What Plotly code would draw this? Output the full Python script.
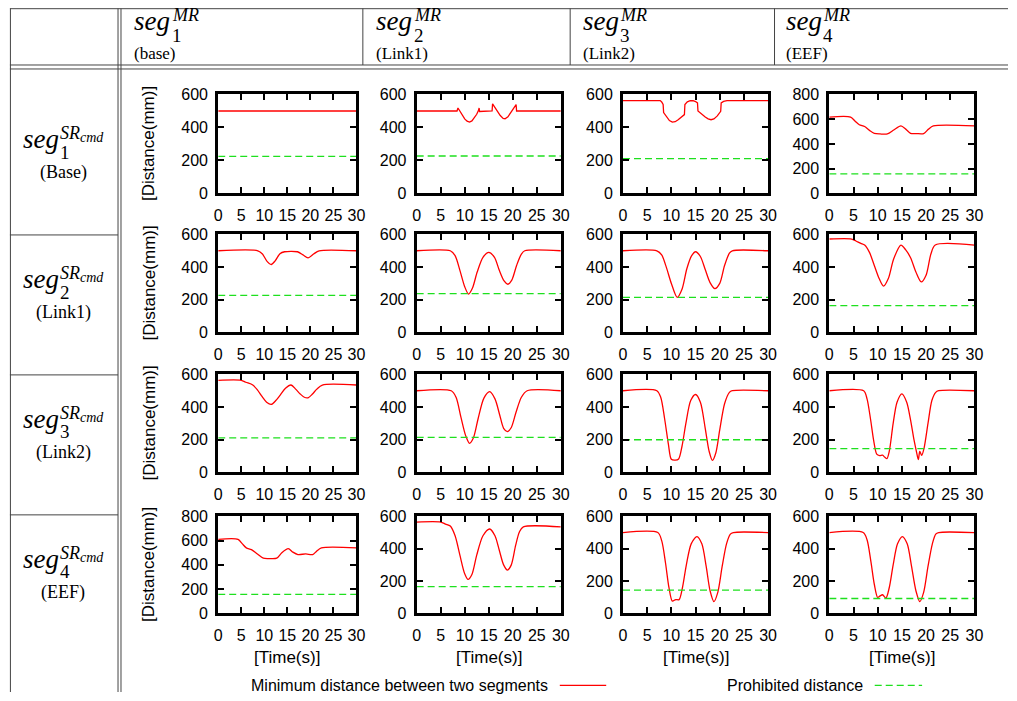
import plotly.graph_objects as go

W, H = 1017, 701

# ---------------- data ----------------
x_ticks = [0, 5, 10, 15, 20, 25, 30]
col_headers = [("1", "(base)"), ("2", "(Link1)"), ("3", "(Link2)"), ("4", "(EEF)")]
row_headers = [("1", "(Base)"), ("2", "(Link1)"), ("3", "(Link2)"), ("4", "(EEF)")]

y_max = [[600, 600, 600, 800],
         [600, 600, 600, 600],
         [600, 600, 600, 600],
         [800, 600, 600, 600]]

prohibited = [[225, 227, 211, 158],
              [227, 238, 215, 164],
              [211, 215, 200, 145],
              [156, 165, 144, 92]]

# row 1 (seg1 SRcmd)
t11 = [0, 30]
d11 = [500, 500]
t12 = [0, 8.4, 8.6, 9.0, 9.5, 10.0, 10.5, 11.0, 11.5, 12.0, 12.5, 12.9, 13.0, 13.1, 15.7, 15.8,
       16.2, 16.8, 17.4, 18.0, 18.4, 19.0, 19.6, 20.2, 20.7, 20.8, 30]
d12 = [500, 500, 518, 500, 475, 452, 438, 433, 440, 458, 480, 505, 518, 497, 500, 543,
       525, 498, 472, 455, 453, 465, 490, 518, 539, 500, 500]
t13 = [0, 7.7, 8.0, 8.3, 8.4, 9.0, 9.6, 10.2, 10.8, 11.4, 12.0, 12.7, 12.8, 13.3, 13.9, 14.5,
       15.0, 15.4, 15.5, 16.2, 17.0, 17.6, 18.2, 18.8, 19.5, 20.2, 20.3, 20.8, 21.5, 30]
d13 = [563, 563, 555, 539, 490, 462, 442, 433, 435, 447, 462, 478, 539, 555, 562, 563,
       557, 549, 500, 480, 463, 452, 447, 452, 470, 498, 549, 558, 563, 563]
t14 = [0, 4.4, 5.3, 6.2, 7.3, 8.3, 9.3, 10.5, 12.0, 13.4, 14.8, 15.8, 16.8, 18.0, 19.5, 20.5, 21.5, 30]
d14 = [617, 617, 585, 555, 541, 510, 486, 481, 481, 515, 546, 520, 486, 484, 484, 520, 546, 546]

# row 2 (seg2 SRcmd)
t21 = [0, 8.6, 9.6, 10.6, 11.5, 12.4, 13.4, 14.4, 17.2, 18.4, 19.5, 20.7, 21.9, 30]
d21 = [500, 500, 480, 435, 416, 440, 482, 494, 494, 475, 457, 480, 500, 500]
t22 = [0, 7.0, 8.0, 9.0, 10.0, 10.8, 11.6, 12.6, 13.8, 15.0, 16.2, 17.2, 18.2, 19.0, 19.8, 20.8,
       21.8, 22.5, 30]
d22 = [500, 500, 470, 380, 280, 235, 270, 370, 460, 490, 460, 380, 315, 295, 320, 410,
       480, 500, 500]
t23 = [0, 7.0, 8.0, 9.0, 10.0, 11.2, 12.2, 13.2, 14.2, 15.0, 16.0, 17.0, 18.0, 19.0, 20.0, 21.0,
       22.0, 22.6, 30]
d23 = [500, 500, 475, 395, 300, 215, 265, 390, 470, 494, 465, 385, 305, 268, 300, 410,
       485, 500, 500]
t24 = [0, 4.6, 5.5, 6.5, 7.3, 8.3, 9.3, 10.3, 11.2, 12.2, 13.3, 14.8, 15.8, 16.8, 17.9, 19.0,
       20.0, 21.0, 21.9, 30]
d24 = [572, 572, 560, 545, 535, 490, 410, 330, 283, 330, 450, 535, 505, 457, 370, 309,
       350, 480, 535, 535]

# row 3 (seg3 SRcmd)
t31 = [0, 5.0, 6.0, 7.5, 8.5, 9.5, 10.5, 11.5, 12.5, 13.5, 14.6, 15.8, 16.8, 17.8, 18.7, 19.5,
       20.4, 21.4, 22.6, 30]
d31 = [564, 564, 552, 535, 505, 465, 430, 416, 440, 475, 515, 535, 510, 480, 460, 457,
       478, 510, 535, 535]
t32 = [0, 7.2, 8.2, 9.2, 10.2, 11.0, 11.8, 12.8, 14.0, 15.2, 16.3, 17.3, 18.1, 18.9, 19.7, 20.7,
       21.8, 23.0, 30]
d32 = [500, 500, 460, 340, 225, 178, 210, 330, 455, 494, 450, 350, 270, 250, 275, 370,
       460, 500, 500]
t33 = [0, 7.0, 7.8, 8.6, 9.4, 10.0, 10.8, 11.5, 12.2, 13.0, 14.0, 15.0, 16.0, 17.0, 17.8, 18.5,
       19.2, 20.0, 21.0, 22.0, 22.6, 30]
d33 = [500, 500, 460, 330, 170, 80, 75, 82, 160, 300, 440, 477, 430, 270, 130, 73,
       120, 260, 420, 490, 500, 500]
t34 = [0, 7.1, 7.8, 8.5, 9.2, 9.8, 10.4, 11.0, 11.5, 11.9, 12.4, 13.2, 14.0, 15.0, 16.0, 16.8,
       17.5, 18.0, 18.4, 18.7, 19.1, 19.6, 20.4, 21.2, 22.0, 22.6, 30]
d34 = [500, 500, 450, 330, 190, 112, 103, 105, 92, 84, 130, 300, 430, 481, 430, 320,
       200, 129, 78, 129, 104, 150, 300, 440, 490, 500, 500]

# row 4 (seg4 SRcmd)
t41 = [0, 4.3, 5.2, 6.1, 7.2, 8.5, 9.8, 11.0, 12.7, 13.8, 15.2, 16.2, 17.3, 19.0, 20.5, 21.3, 22.4, 30]
d41 = [610, 610, 575, 540, 526, 490, 455, 452, 455, 500, 534, 505, 485, 490, 485, 510, 540, 540]
t42 = [0, 5.0, 6.0, 7.0, 8.0, 9.0, 10.0, 10.7, 11.5, 12.5, 13.8, 15.2, 16.3, 17.2, 18.1, 18.9,
       19.7, 20.6, 21.4, 22.2, 30]
d42 = [565, 565, 552, 540, 480, 360, 245, 210, 240, 360, 480, 522, 480, 390, 300, 268,
       300, 420, 505, 535, 535]
t43 = [0, 7.2, 8.0, 8.8, 9.5, 10.2, 10.9, 11.6, 12.3, 13.1, 14.1, 15.3, 16.3, 17.2, 18.0, 18.8,
       19.6, 20.5, 21.4, 22.2, 22.8, 30]
d43 = [500, 500, 450, 310, 160, 76, 85, 85, 160, 300, 430, 475, 430, 290, 140, 73,
       130, 290, 430, 490, 500, 500]
t44 = [0, 7.0, 7.8, 8.6, 9.3, 10.0, 10.5, 11.0, 11.7, 12.4, 13.2, 14.1, 15.1, 16.1, 17.0, 17.9,
       18.7, 19.5, 20.4, 21.3, 22.0, 22.6, 30]
d44 = [500, 500, 455, 320, 180, 98, 108, 115, 94, 160, 300, 430, 475, 430, 290, 140,
       73, 130, 290, 430, 490, 500, 500]

series = [[(t11, d11), (t12, d12), (t13, d13), (t14, d14)],
          [(t21, d21), (t22, d22), (t23, d23), (t24, d24)],
          [(t31, d31), (t32, d32), (t33, d33), (t34, d34)],
          [(t41, d41), (t42, d42), (t43, d43), (t44, d44)]]

line_shape = [["linear", "linear", "linear", "spline"],
              ["spline", "spline", "spline", "spline"],
              ["spline", "spline", "spline", "spline"],
              ["spline", "spline", "spline", "spline"]]

# ---------------- layout geometry (target pixels in the picture) ----------------
col_px = [(217, 357), (418, 564), (627, 774), (836, 983)]
row_px = [(93, 192), (233, 331), (373, 471), (515, 612)]

RED = "#ff0000"
GREEN = "#1ee01e"
SANS = "Liberation Sans"
SERIF = "Liberation Serif"

# the photographed page comes out slightly squeezed vertically; compensate
VA, VB = 0.976, 6.5


def px(x):
    return x / W


def py(y):
    v = 1 - ((y - VB) / VA) / H
    return min(1.0, max(0.0, v))


fig = go.Figure()
layout = {}

for r in range(4):
    for c in range(4):
        k = r * 4 + c + 1
        xa = "x" if k == 1 else f"x{k}"
        ya = "y" if k == 1 else f"y{k}"
        t, d = series[r][c]
        fig.add_trace(go.Scatter(x=t, y=d, xaxis=xa, yaxis=ya, mode="lines",
                                 line=dict(color=RED, width=1.3, shape=line_shape[r][c], smoothing=0.8),
                                 showlegend=False, hoverinfo="skip"))
        g = prohibited[r][c]
        fig.add_trace(go.Scatter(x=[0, 30], y=[g, g], xaxis=xa, yaxis=ya, mode="lines",
                                 line=dict(color=GREEN, width=1.3, dash="7px,4px"),
                                 showlegend=False, hoverinfo="skip"))
        common = dict(showline=True, linewidth=3, linecolor="black", mirror="allticks",
                      ticks="inside", ticklen=6, tickwidth=2, tickcolor="black",
                      showgrid=False, zeroline=False, fixedrange=True,
                      tickfont=dict(family=SANS, size=16, color="black"))
        x0, x1 = col_px[c]
        y0, y1 = row_px[r]
        layout["xaxis" if k == 1 else f"xaxis{k}"] = dict(
            common, domain=[px(x0), px(x1)], range=[0, 30], tickvals=x_ticks,
            anchor=ya, ticklabelstandoff=5)
        ym = y_max[r][c]
        layout["yaxis" if k == 1 else f"yaxis{k}"] = dict(
            common, domain=[py(y1), py(y0)], range=[0, ym],
            tickvals=list(range(0, ym + 1, 200)), anchor=xa, ticklabelstandoff=4)

annotations = []
shapes = []


def text_at(x, baseline, text, size, family=SERIF, xanchor="left"):
    bottom = baseline + 0.216 * size + 1
    annotations.append(dict(x=px(x), y=py(bottom), xref="paper", yref="paper", text=text,
                            showarrow=False, xanchor=xanchor, yanchor="bottom",
                            font=dict(family=family, size=size, color="black")))


# column headers
hdr_x = [130, 375, 584, 790]
for (idx, name), x0 in zip(col_headers, hdr_x):
    text_at(x0, 30, "<i>seg</i>", 27)
    text_at(x0 + 38, 21, "<i>MR</i>", 18)
    text_at(x0 + 38, 41, idx, 19)
    text_at(x0, 59, name, 17)

# row headers
for i, (idx, name) in enumerate(row_headers):
    b = 148 + 140 * i
    text_at(17, b, "<i>seg</i>", 27)
    text_at(55, b - 9, "<i>SR</i>", 18)
    text_at(75, b - 6, "<i>cmd</i>", 14)
    text_at(55, b + 10, idx, 19)
    text_at(60, b + 31, name, 18, xanchor="center")

# axis titles
for r in range(4):
    y0, y1 = row_px[r]
    annotations.append(dict(x=px(147), y=py((y0 + y1) / 2), xref="paper", yref="paper",
                            text="[Distance(mm)]", showarrow=False, textangle=-90,
                            xanchor="center", yanchor="middle",
                            font=dict(family=SANS, size=17, color="black")))
for c in range(4):
    x0, x1 = col_px[c]
    annotations.append(dict(x=px((x0 + x1) / 2), y=py(656), xref="paper", yref="paper",
                            text="[Time(s)]", showarrow=False, xanchor="center", yanchor="middle",
                            font=dict(family=SANS, size=17, color="black")))

# key
annotations.append(dict(x=px(553), y=py(684), xref="paper", yref="paper",
                        text="Minimum distance between two segments", showarrow=False,
                        xanchor="right", yanchor="middle", font=dict(family=SANS, size=16, color="black")))
annotations.append(dict(x=px(872), y=py(684), xref="paper", yref="paper",
                        text="Prohibited distance", showarrow=False,
                        xanchor="right", yanchor="middle", font=dict(family=SANS, size=16, color="black")))
shapes.append(dict(type="line", xref="paper", yref="paper", x0=px(563), x1=px(610), y0=py(684), y1=py(684),
                   line=dict(color=RED, width=1.3)))
shapes.append(dict(type="line", xref="paper", yref="paper", x0=px(882), x1=px(930), y0=py(684), y1=py(684),
                   line=dict(color=GREEN, width=1.3, dash="7px,4px")))

# table rules
LC = "#444444"


def rule(xa, ya, xb, yb):
    shapes.append(dict(type="line", xref="paper", yref="paper", x0=px(xa), x1=px(xb),
                       y0=py(ya), y1=py(yb), line=dict(color=LC, width=1)))


rule(6, 7.2, 1017, 7.2)
rule(6.5, 7, 6.5, 701)
rule(115.5, 7, 115.5, 701)
rule(118.5, 7, 118.5, 701)
rule(6, 63.5, 1017, 63.5)
rule(6, 67.5, 1017, 67.5)
for xs in (363.5, 573.5, 780.5):
    rule(xs, 7, xs, 63.5)
for ys in (233.5, 373.5, 513.5):
    rule(6, ys, 115.5, ys)

fig.update_layout(width=W, height=H, margin=dict(l=0, r=0, t=0, b=0),
                  paper_bgcolor="white", plot_bgcolor="white",
                  annotations=annotations, shapes=shapes, showlegend=False, **layout)

post = (
    "document.documentElement.style.margin='0';"
    "document.documentElement.style.padding='0';"
    "document.documentElement.style.overflow='hidden';"
    "document.body.style.margin='0';"
    "document.body.style.padding='0';"
    "document.body.style.overflow='hidden';"
    "var gd=document.querySelector('.plotly-graph-div');"
    "if(gd){gd.style.position='fixed';gd.style.left='0px';gd.style.top='0px';}"
)

fig.write_html("out.html", config={"displayModeBar": False, "responsive": False}, post_script=post)
